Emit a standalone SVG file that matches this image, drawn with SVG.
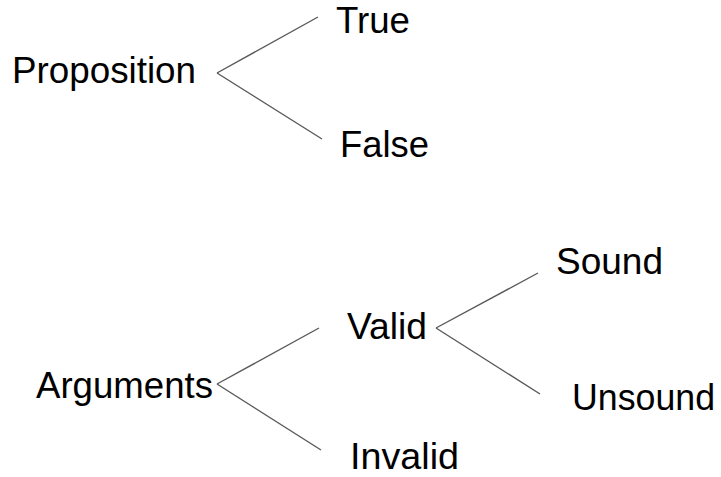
<svg xmlns="http://www.w3.org/2000/svg" width="721" height="477" viewBox="0 0 721 477">
<style>
text { font-family: "Liberation Sans", Arial, sans-serif; font-size: 36px; fill: #000; }
.lo { font-size: 37px; }
.c line { stroke: #595959; stroke-width: 1.4; fill: none; }
</style>
<rect width="721" height="477" fill="#fff"/>
<g class="c" id="connectors">
<line x1="217" y1="73" x2="318" y2="17"/>
<line x1="217" y1="73" x2="322" y2="139"/>
<line x1="217" y1="384" x2="319" y2="328"/>
<line x1="217" y1="384" x2="321" y2="450"/>
<line x1="436" y1="328" x2="538" y2="273"/>
<line x1="436" y1="328" x2="540" y2="394"/>
</g>
<g id="proposition"><text x="12" y="83" textLength="184" lengthAdjust="spacingAndGlyphs">Proposition</text></g>
<g id="true"><text x="336" y="33" textLength="74" lengthAdjust="spacingAndGlyphs">True</text></g>
<g id="false"><text x="340" y="157" textLength="89" lengthAdjust="spacingAndGlyphs">False</text></g>
<g id="arguments"><text class="lo" x="36" y="398" textLength="177" lengthAdjust="spacingAndGlyphs">Arguments</text></g>
<g id="valid"><text class="lo" x="347" y="339" textLength="80" lengthAdjust="spacingAndGlyphs">Valid</text></g>
<g id="invalid"><text x="350" y="469" textLength="109" lengthAdjust="spacingAndGlyphs">Invalid</text></g>
<g id="sound"><text x="556" y="274" textLength="107" lengthAdjust="spacingAndGlyphs">Sound</text></g>
<g id="unsound"><text x="572" y="410" textLength="143" lengthAdjust="spacingAndGlyphs">Unsound</text></g>
</svg>
